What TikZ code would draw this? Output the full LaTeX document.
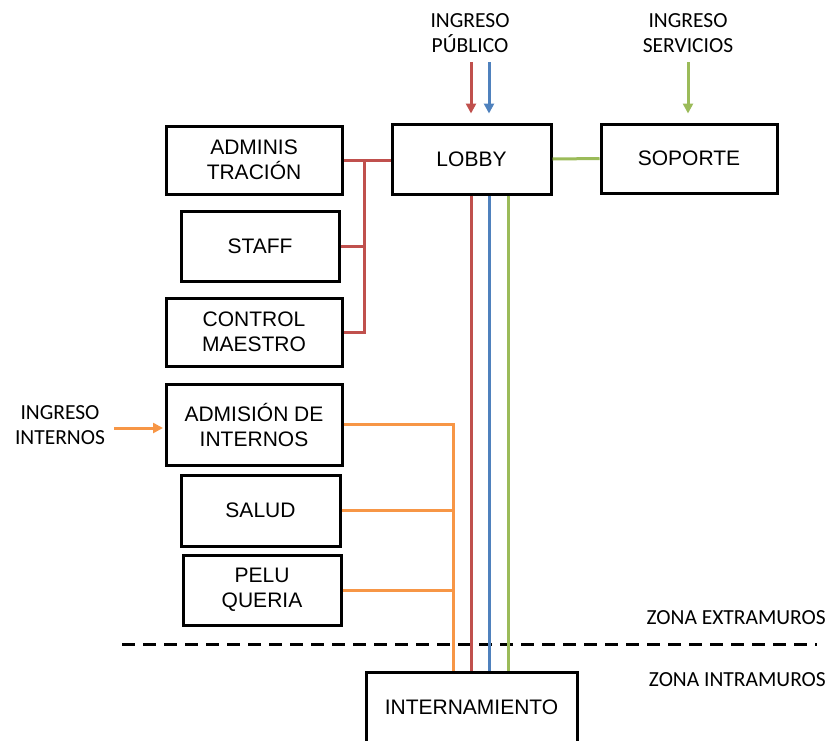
\documentclass[tikz,border=0pt]{standalone}
\usepackage{fontspec}
\setmainfont{Liberation Sans}
\newfontfamily\lblfont{Carlito}
\usetikzlibrary{arrows.meta, positioning}
\definecolor{lineRed}{RGB}{192, 80, 77}
\definecolor{lineBlue}{RGB}{79, 129, 189}
\definecolor{lineGreen}{RGB}{155, 187, 89}
\definecolor{lineOrange}{RGB}{247, 150, 70}

\begin{document}
\begin{tikzpicture}[x=1pt, y=-1pt,
    area/.style={draw, line width=3pt, inner sep=0pt, align=center,
                 font=\fontsize{21}{25}\selectfont},
    tag/.style={align=center, inner sep=0pt, font=\lblfont\fontsize{21.5}{25}\selectfont},
    link/.style={line width=3pt},
    entry/.style={line width=3pt, -{Triangle[length=10pt,width=10pt]}}]
    \useasboundingbox (0,0) rectangle (829,740);
    \clip (0,0) rectangle (829,740);

    % zone boundary
    \draw[line width=3pt, dash pattern=on 13pt off 8pt] (122,644) -- (817,644);

    % areas
    \node[area, minimum width=176pt, minimum height=68pt] (admin) at (254,160) {ADMINIS\\TRACIÓN};
    \node[area, minimum width=158pt, minimum height=70pt] (staff) at (260,246) {STAFF};
    \node[area, minimum width=176pt, minimum height=68pt] (control) at (254,332) {CONTROL\\MAESTRO};
    \node[area, minimum width=176pt, minimum height=81pt] (admision) at (254,424.5) {ADMISIÓN DE\\INTERNOS};
    \node[area, minimum width=159pt, minimum height=71pt] (salud) at (260.5,510.5) {SALUD};
    \node[area, minimum width=158pt, minimum height=70pt] (pelu) at (262,590) {PELU\\QUERIA};
    \node[area, minimum width=159pt, minimum height=70pt] (lobby) at (471.5,159) {LOBBY};
    \node[area, minimum width=176pt, minimum height=69pt] (soporte) at (689,158.5) {SOPORTE};
    \node[area, minimum width=211pt, minimum height=70pt] (intern) at (471.5,707) {INTERNAMIENTO};

    % entrances and zones
    \node[tag] (pub) at (470,33) {INGRESO\\PÚBLICO};
    \node[tag] (serv) at (688,33) {INGRESO\\SERVICIOS};
    \node[tag] (inmates) at (60,425) {INGRESO\\INTERNOS};
    \node[tag, anchor=east] (extra) at (826,618) {ZONA EXTRAMUROS};
    \node[tag, anchor=east] (intra) at (826,680) {ZONA INTRAMUROS};

    \coordinate (pubR) at (471,62);
    \coordinate (pubB) at (489,62);
    \coordinate (servG) at (688,62);
    \coordinate (inmIn) at (114,428);
    \coordinate (redBus) at (364,160);
    \coordinate (orangeBus) at ([xshift=-18.5pt]intern.north);

    % arrows in
    \draw[entry, lineRed, shorten >=9pt] (pubR) -- (pubR |- lobby.north);
    \draw[entry, lineBlue, shorten >=9pt] (pubB) -- (pubB |- lobby.north);
    \draw[entry, lineGreen, shorten >=9pt] (servG) -- (servG |- soporte.north);
    \draw[entry, lineOrange, shorten >=1.5pt] (inmIn) -- (inmIn -| admision.west);

    % administration branch
    \draw[link, lineRed] (admin.east) -- (admin.east -| lobby.west);
    \draw[link, lineRed] (staff.east) -| (redBus);
    \draw[link, lineRed] (control.east) -| (redBus);
    \draw[link, lineGreen] (lobby.east) -- (soporte.west);

    % inmates branch
    \draw[link, lineOrange] (admision.east) -| (orangeBus);
    \draw[link, lineOrange] (salud.east) -- (salud.east -| orangeBus);
    \draw[link, lineOrange] (pelu.east) -- (pelu.east -| orangeBus);

    % lobby to internamiento
    \draw[link, lineRed] (lobby.south) -- (intern.north);
    \draw[link, lineBlue] ([xshift=18pt]lobby.south) -- ([xshift=18pt]intern.north);
    \draw[link, lineGreen] ([xshift=36.5pt]lobby.south) -- ([xshift=36.5pt]intern.north);
\end{tikzpicture}
\end{document}
